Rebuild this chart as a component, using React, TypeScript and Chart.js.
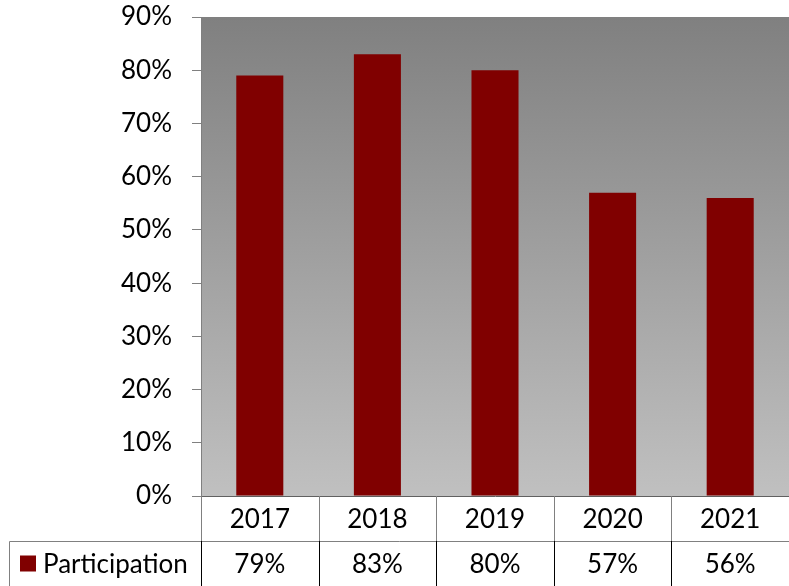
import React, { useEffect, useRef } from "react";
import { Chart, registerables } from "chart.js";

Chart.register(...registerables);

// Survey participation rate by year (percent)
const years: string[] = ["2017", "2018", "2019", "2020", "2021"];
const participation: number[] = [79, 83, 80, 57, 56];
const seriesName = "Participation";
const yTicks: number[] = [0, 10, 20, 30, 40, 50, 60, 70, 80, 90];

const FONT = "Lato, 'Open Sans', sans-serif";
const FONT_SIZE = 26;
const BAR_COLOR = "#800000";

// Gradient fill behind the plot area
const plotBackground = {
  id: "plotBackground",
  beforeDraw(chart: any) {
    const { ctx, chartArea: a } = chart;
    const g = ctx.createLinearGradient(0, a.top, 0, a.bottom);
    g.addColorStop(0, "#808080");
    g.addColorStop(1, "#c0c0c0");
    ctx.save();
    ctx.fillStyle = g;
    ctx.fillRect(a.left, a.top, a.right - a.left, a.bottom - a.top);
    ctx.restore();
  },
};

// Data table under the axis: category row, then legend key + values row
const dataTable = {
  id: "dataTable",
  afterDraw(chart: any) {
    const { ctx, chartArea: a, scales } = chart;
    const x = scales.x;
    const row1Top = a.bottom;
    const row2Top = a.bottom + 45;
    const bottom = chart.height;
    const legendLeft = 9.5;
    const half = (x.getPixelForValue(1) - x.getPixelForValue(0)) / 2;

    ctx.save();
    ctx.lineWidth = 1;

    // horizontal divider between rows
    ctx.strokeStyle = "#808080";
    ctx.beginPath();
    ctx.moveTo(legendLeft, Math.round(row2Top) + 0.5);
    ctx.lineTo(a.right, Math.round(row2Top) + 0.5);
    ctx.stroke();

    // legend cell left border
    ctx.beginPath();
    ctx.moveTo(legendLeft, Math.round(row2Top) + 0.5);
    ctx.lineTo(legendLeft, bottom);
    ctx.stroke();

    // column separators
    years.forEach((_, i) => {
      const xl = Math.round(x.getPixelForValue(i) - half) + 0.5;
      ctx.strokeStyle = "#808080";
      ctx.beginPath();
      ctx.moveTo(xl, row1Top);
      ctx.lineTo(xl, row2Top);
      ctx.stroke();
      ctx.strokeStyle = "#000000";
      ctx.beginPath();
      ctx.moveTo(xl, row2Top);
      ctx.lineTo(xl, bottom);
      ctx.stroke();
    });

    ctx.fillStyle = "#000000";
    ctx.font = `${FONT_SIZE}px ${FONT}`;
    ctx.textAlign = "center";
    ctx.textBaseline = "middle";
    years.forEach((y, i) => {
      const cx = x.getPixelForValue(i);
      ctx.fillText(y, cx, (row1Top + row2Top) / 2 + 1);
      ctx.fillText(`${participation[i]}%`, cx, (row2Top + bottom) / 2 + 1);
    });

    // legend key
    const midY = (row2Top + bottom) / 2;
    ctx.fillStyle = BAR_COLOR;
    ctx.fillRect(20, midY - 8, 16, 16);
    ctx.fillStyle = "#000000";
    ctx.textAlign = "left";
    ctx.fillText(seriesName, 43, midY + 1);

    ctx.restore();
  },
};

export default function App() {
  const canvasRef = useRef<HTMLCanvasElement | null>(null);

  useEffect(() => {
    if (!canvasRef.current) return;
    const chart = new Chart(canvasRef.current, {
      type: "bar",
      data: {
        labels: years,
        datasets: [
          {
            label: seriesName,
            data: participation,
            backgroundColor: BAR_COLOR,
            borderWidth: 0,
            barPercentage: 0.4,
            categoryPercentage: 1.0,
          },
        ],
      },
      options: {
        animation: false,
        responsive: false,
        maintainAspectRatio: false,
        devicePixelRatio: 1,
        layout: { padding: { top: 17, bottom: 90, left: 0, right: 0 } },
        plugins: {
          legend: { display: false },
          tooltip: { enabled: false },
        },
        scales: {
          x: {
            grid: { display: false },
            ticks: { display: false },
            border: { display: true, color: "#606060", width: 1 },
            afterFit(scale: any) {
              scale.height = 0;
            },
          },
          y: {
            min: 0,
            max: 90,
            afterBuildTicks(scale: any) {
              scale.ticks = yTicks.map((v) => ({ value: v }));
            },
            ticks: {
              padding: 20,
              color: "#000000",
              font: { family: FONT, size: FONT_SIZE },
              callback: (v: any) => `${v}%`,
            },
            grid: {
              display: true,
              drawOnChartArea: false,
              drawTicks: true,
              tickLength: 9,
              color: "#808080",
            },
            border: { display: true, color: "#808080", width: 1 },
            afterFit(scale: any) {
              scale.width = 201;
              scale.paddingTop = 0;
              scale.paddingBottom = 0;
            },
          },
        },
      },
      plugins: [plotBackground, dataTable],
    });
    return () => chart.destroy();
  }, []);

  return (
    <div style={{ position: "fixed", left: 0, top: 0, width: 789, height: 586, background: "#ffffff" }}>
      <canvas ref={canvasRef} width={789} height={586} style={{ width: 789, height: 586, display: "block" }} />
    </div>
  );
}
